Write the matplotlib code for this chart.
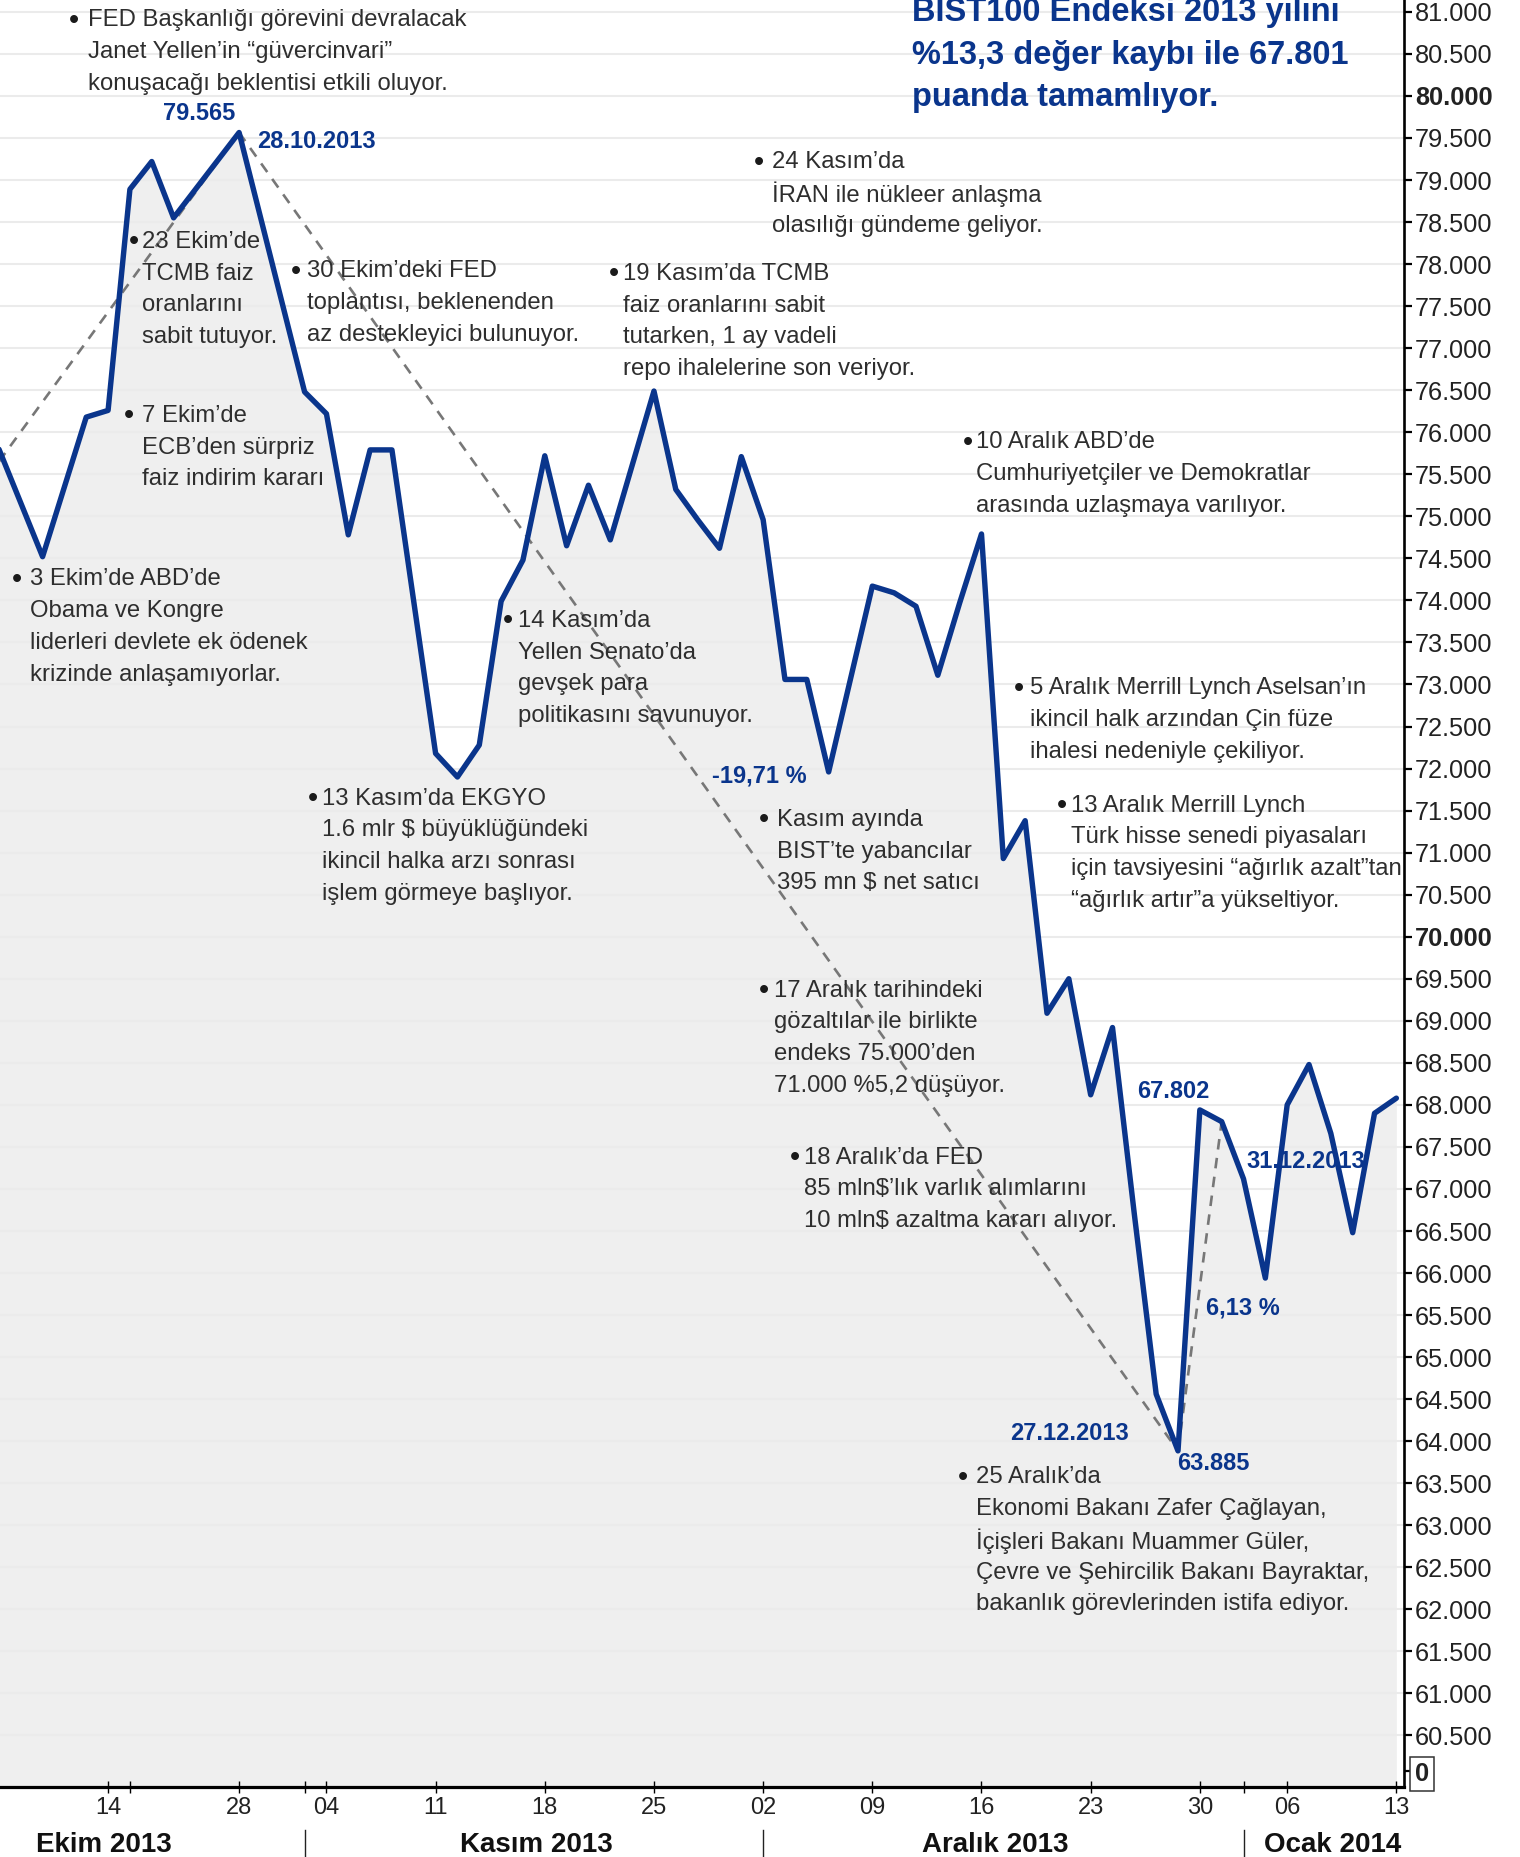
import matplotlib
matplotlib.use("Agg")
import matplotlib.pyplot as plt
import matplotlib.transforms as mtransforms
import pandas as pd

# BIST100 closing levels (trading days only)
dates = ["2013-10-07", "2013-10-09", "2013-10-11", "2013-10-14", "2013-10-21",
         "2013-10-22", "2013-10-23", "2013-10-28", "2013-11-01", "2013-11-04",
         "2013-11-05", "2013-11-06", "2013-11-07", "2013-11-11", "2013-11-12",
         "2013-11-13", "2013-11-14", "2013-11-15", "2013-11-18", "2013-11-19",
         "2013-11-20", "2013-11-21", "2013-11-25", "2013-11-26", "2013-11-27",
         "2013-11-28", "2013-11-29", "2013-12-02", "2013-12-03", "2013-12-04",
         "2013-12-05", "2013-12-09", "2013-12-10", "2013-12-11", "2013-12-12",
         "2013-12-13", "2013-12-16", "2013-12-17", "2013-12-18", "2013-12-19",
         "2013-12-20", "2013-12-23", "2013-12-24", "2013-12-25", "2013-12-26",
         "2013-12-27", "2013-12-30", "2013-12-31", "2014-01-02", "2014-01-03",
         "2014-01-06", "2014-01-07", "2014-01-08", "2014-01-09", "2014-01-10",
         "2014-01-13"]
values = [75800, 74520, 76180, 76260, 78890,
          79220, 78550, 79565, 76480, 76220,
          74780, 75790, 75790, 72180, 71900,
          72280, 73990, 74480, 75720, 74650,
          75370, 74720, 76490, 75320, 74960,
          74620, 75710, 74960, 73060, 73060,
          71960, 74170, 74090, 73930, 73110,
          73970, 74790, 70930, 71380, 69090,
          69500, 68120, 68920, 66700, 64560,
          63885, 67940, 67801, 67120, 65940,
          68000, 68480, 67660, 66480, 67900,
          68080]

holidays = ["2013-10-15", "2013-10-16", "2013-10-17", "2013-10-18",
            "2013-10-29", "2014-01-01"]

# dashed trend lines (start date, end date), (start value, end value)
trend_dates = [("2013-10-07", "2013-10-28"), ("2013-10-28", "2013-12-27"),
               ("2013-12-27", "2013-12-31")]
trend_values = [(75650, 79565), (79565, 63885), (63885, 67801)]

ytick_values = list(range(60500, 81001, 500))
xtick_dates = ["2013-10-14", "2013-10-28", "2013-11-04", "2013-11-11", "2013-11-18",
               "2013-11-25", "2013-12-02", "2013-12-09", "2013-12-16", "2013-12-23",
               "2013-12-30", "2014-01-06", "2014-01-13"]
xtick_labels = [d[-2:] for d in xtick_dates]
month_starts = ["2013-11-01", "2013-12-02", "2014-01-02"]
month_labels = ["Ekim 2013", "Kasım 2013", "Aralık 2013", "Ocak 2014"]

title_lines = ["BIST100 Endeksi 2013 yılını", "%13,3 değer kaybı ile 67.801",
               "puanda tamamlıyor."]

notes = [
    (62, 74, 15, ["FED Başkanlığı görevini devralacak", "Janet Yellen’in “güvercinvari”",
                  "konuşacağı beklentisi etkili oluyor."]),
    (641, 652, 135, ["24 Kasım’da", "İRAN ile nükleer anlaşma", "olasılığı gündeme geliyor."]),
    (113, 120, 202, ["23 Ekim’de", "TCMB faiz", "oranlarını", "sabit tutuyor."]),
    (250, 259, 227, ["30 Ekim’deki FED", "toplantısı, beklenenden", "az destekleyici bulunuyor."]),
    (518, 526, 229, ["19 Kasım’da TCMB", "faiz oranlarını sabit", "tutarken, 1 ay vadeli",
                     "repo ihalelerine son veriyor."]),
    (109, 120, 349, ["7 Ekim’de", "ECB’den sürpriz", "faiz indirim kararı"]),
    (817, 824, 371, ["10 Aralık ABD’de", "Cumhuriyetçiler ve Demokratlar",
                     "arasında uzlaşmaya varılıyor."]),
    (14, 25, 487, ["3 Ekim’de ABD’de", "Obama ve Kongre", "liderleri devlete ek ödenek",
                   "krizinde anlaşamıyorlar."]),
    (429, 437, 522, ["14 Kasım’da", "Yellen Senato’da", "gevşek para", "politikasını savunuyor."]),
    (860, 869, 579, ["5 Aralık Merrill Lynch Aselsan’ın", "ikincil halk arzından Çin füze",
                     "ihalesi nedeniyle çekiliyor."]),
    (264, 272, 672, ["13 Kasım’da EKGYO", "1.6 mlr $ büyüklüğündeki",
                     "ikincil halka arzı sonrası", "işlem görmeye başlıyor."]),
    (645, 656, 690, ["Kasım ayında", "BIST’te yabancılar", "395 mn $ net satıcı"]),
    (896, 904, 678, ["13 Aralık Merrill Lynch", "Türk hisse senedi piyasaları",
                     "için tavsiyesini “ağırlık azalt”tan", "“ağırlık artır”a yükseltiyor."]),
    (645, 653, 834, ["17 Aralık tarihindeki", "gözaltılar ile birlikte", "endeks 75.000’den",
                     "71.000 %5,2 düşüyor."]),
    (671, 679, 975, ["18 Aralık’da FED", "85 mln$’lık varlık alımlarını",
                     "10 mln$ azaltma kararı alıyor."]),
    (813, 824, 1245, ["25 Aralık’da", "Ekonomi Bakanı Zafer Çağlayan,",
                      "İçişleri Bakanı Muammer Güler,", "Çevre ve Şehircilik Bakanı Bayraktar,",
                      "bakanlık görevlerinden istifa ediyor."]),
]

blue_labels = [
    (168, 94, "79.565", "center"),
    (217, 117, "28.10.2013", "left"),
    (601, 653, "-19,71 %", "left"),
    (960, 919, "67.802", "left"),
    (1052, 978, "31.12.2013", "left"),
    (1018, 1102, "6,13 %", "left"),
    (853, 1208, "27.12.2013", "left"),
    (994, 1233, "63.885", "left"),
]

W, H = 1520, 1857
S = W / 1283          # reference preview px -> output px
BLUE = "#0a358c"
TEXT = "#2e2e2e"
SANS = ["Liberation Sans", "DejaVu Sans"]
NARROW = ["Liberation Sans Narrow", "Liberation Sans", "DejaVu Sans"]

plt.rcParams["font.family"] = SANS

days = pd.bdate_range("2013-10-07", "2014-01-13")
days = days[~days.isin(pd.to_datetime(holidays))]
pos = {d.strftime("%Y-%m-%d"): i for i, d in enumerate(days)}
x = [pos[d] for d in dates]

fig = plt.figure(figsize=(W / 100, H / 100), dpi=100)
bottom = (H - 1786.6) / H
ax = fig.add_axes([0, bottom, 1404 / W, 1 - bottom])

ymin, ymax = 59892, 81141
ax.set_xlim(0.05, 64.35)
ax.set_ylim(ymin, ymax)

ax.fill_between(x, values, ymin, color="#efefef", lw=0, zorder=1)
ax.hlines(ytick_values, 0.05, 64.35, color="#ebebeb", lw=1.5, zorder=1.5)
for (d0, d1), (v0, v1) in zip(trend_dates, trend_values):
    ax.plot([pos[d0], pos[d1]], [v0, v1], color="#777777", lw=1.9,
            dashes=(4, 3.2), zorder=2)
ax.plot(x, values, color=BLUE, lw=3.9, solid_joinstyle="round",
        solid_capstyle="round", zorder=4)

# y axis on the right, with the "0" break marker
zero_tick = 60076
yt = ytick_values + [zero_tick]
ylabels = [f"{v:,}".replace(",", ".") for v in ytick_values] + ["0"]
ax.yaxis.tick_right()
ax.set_yticks(yt, ylabels)
ax.tick_params(axis="y", direction="out", length=6, width=1.6, pad=2,
               labelsize=18.3, labelcolor="#222222")
for lbl in ax.get_yticklabels():
    if lbl.get_text() in ("80.000", "70.000", "0"):
        lbl.set_fontweight("bold")
    if lbl.get_text() == "0":
        lbl.set_bbox(dict(boxstyle="square,pad=0.2", fc="white", ec="#333333", lw=1.1))

ax.set_xticks([pos[d] for d in xtick_dates], xtick_labels)
ax.set_xticks([pos[d] for d in ["2013-10-21"] + month_starts], minor=True)
ax.tick_params(axis="x", which="both", direction="inout", length=9, width=1.0,
               pad=3, labelsize=17, labelcolor="#222222")
for lbl in ax.get_xticklabels():
    lbl.set_family(NARROW)

for side in ("left", "top"):
    ax.spines[side].set_visible(False)
ax.spines["right"].set_linewidth(1.9)
ax.spines["bottom"].set_linewidth(2.3)
ax.patch.set_alpha(0)

# month separators and labels under the axis
trans = mtransforms.blended_transform_factory(ax.transData, fig.transFigure)
for d in month_starts:
    ax.plot([pos[d], pos[d]], [1 - 1830 / H, 0], transform=trans, color="#222222",
            lw=1.0, clip_on=False)
for lbl, cx in zip(month_labels, [88, 453, 840, 1125]):
    fig.text(cx * S / W, 1 - 1555 * S / H, lbl, ha="center", va="center_baseline",
             fontsize=20, fontweight="bold", color="#111111")


def ftext(xp, yp, s, **kw):
    return ax.text(xp * S / W, 1 - yp * S / H, s, transform=fig.transFigure, **kw)


for bx, tx, ty, lines in notes:
    ftext(bx, ty, "•", ha="center", va="center_baseline", fontsize=21, color="#1a1a1a",
          zorder=5, clip_on=False)
    for i, line in enumerate(lines):
        clip = bx > 880
        ftext(tx, ty + i * 26.8, line, ha="left", va="center_baseline",
              fontsize=17.2, color=TEXT, zorder=5, clip_on=clip)

for lx, ly, s, ha in blue_labels:
    ftext(lx, ly, s, ha=ha, va="center_baseline", fontsize=17, fontweight="bold",
          color=BLUE, zorder=6, clip_on=False)

for i, line in enumerate(title_lines):
    ftext(770, 8 + i * 35.5, line, ha="left", va="center_baseline", fontsize=23.5,
          fontweight="bold", color=BLUE, zorder=6, clip_on=False)

fig.savefig("out.png", dpi=100, facecolor="white")
